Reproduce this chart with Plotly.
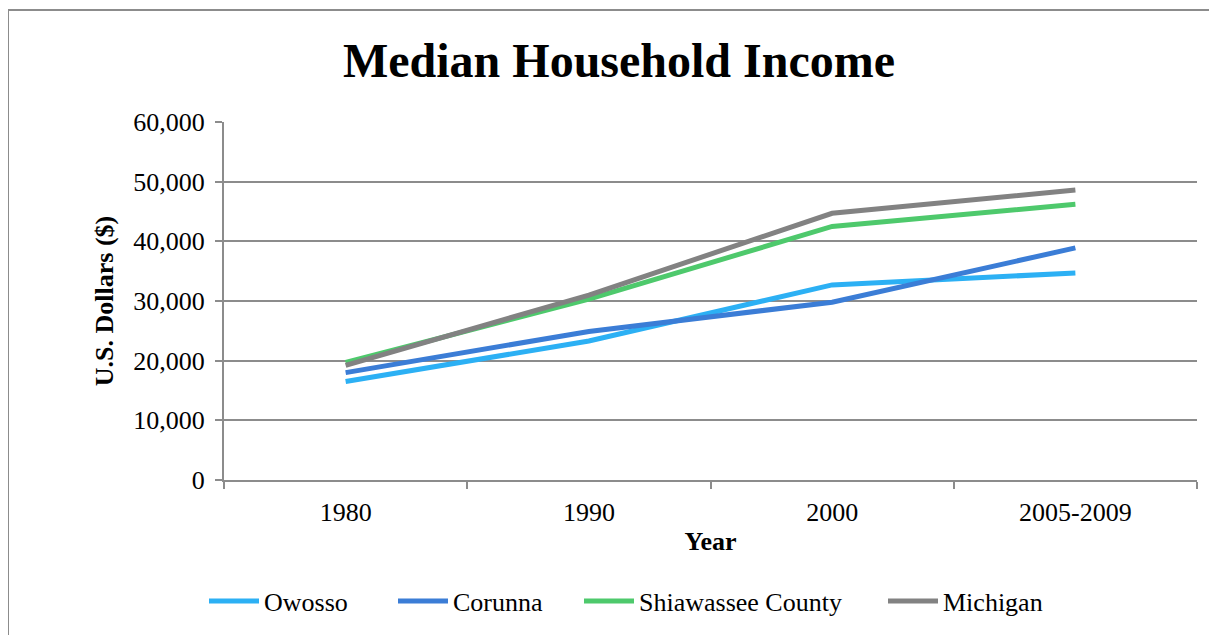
import plotly.graph_objects as go

# data
years = ["1980", "1990", "2000", "2005-2009"]
owosso = [16500, 23300, 32700, 34700]
corunna = [18000, 24900, 29800, 38900]
shiawassee = [19700, 30300, 42500, 46200]
michigan = [19200, 31000, 44700, 48600]

series = [
    ("Owosso", owosso, "#2cb0f4"),
    ("Corunna", corunna, "#3b7dd6"),
    ("Shiawassee County", shiawassee, "#4ec96c"),
    ("Michigan", michigan, "#828282"),
]

serif = "Liberation Serif, Times New Roman, serif"
grid = "#8c8c8c"

# page body has an 8px margin: the figure starts at (8, 8) in the window
W, H = 1209, 627

# one legend per series so the entries spread out like the original
legend_left = [196, 385, 571, 875]
legend_ids = ["legend", "legend2", "legend3", "legend4"]

fig = go.Figure()
for (name, vals, col), lid in zip(series, legend_ids):
    fig.add_trace(go.Scatter(
        x=years, y=vals, name=name, mode="lines",
        line=dict(color=col, width=5), legend=lid,
    ))

legends = {}
for lid, lx in zip(legend_ids, legend_left):
    legends[lid] = dict(orientation="h", xref="container", x=lx / W, xanchor="left",
                        yref="container", y=1 - 593 / H, yanchor="middle",
                        font=dict(size=26, family=serif), itemwidth=50,
                        bgcolor="rgba(0,0,0,0)")

fig.update_layout(
    width=W, height=H,
    margin=dict(l=216, r=20, t=114, b=155),
    paper_bgcolor="white", plot_bgcolor="white",
    font=dict(family=serif, size=26, color="black"),
    title=dict(text="<b>Median Household Income</b>", x=611 / W, xanchor="center",
               y=1 - 52 / H, yanchor="middle", font=dict(size=48, family=serif)),
    showlegend=True,
    **legends,
)

fig.update_xaxes(
    type="category", range=[-0.5, 3.5], tickson="boundaries", showgrid=False,
    showline=True, linecolor=grid, linewidth=2, automargin=False,
    ticks="outside", ticklen=7, tickwidth=2, tickcolor=grid,
    ticklabelstandoff=8, tickfont=dict(size=26),
    title=dict(text="<b>Year</b>", font=dict(size=26), standoff=6),
)
fig.update_yaxes(
    range=[0, 60000], dtick=10000, tickformat=",d",
    showgrid=True, gridcolor=grid, gridwidth=2, automargin=False,
    showline=True, linecolor=grid, linewidth=2,
    ticks="outside", ticklen=7, tickwidth=2, tickcolor=grid,
    ticklabelstandoff=5, tickfont=dict(size=26), zeroline=False,
    title=dict(text="<b>U.S. Dollars ($)</b>", font=dict(size=26), standoff=12),
)

# outer chart border (right/bottom edges fall outside the view)
fig.add_shape(type="rect", xref="paper", yref="paper",
              x0=(8 - 224) / 973, x1=(1250 - 224) / 973,
              y0=(480 - 670) / 358, y1=(480 - 10) / 358,
              line=dict(color="#8c8c8c", width=2), layer="below")

fig.write_html("out.html")
